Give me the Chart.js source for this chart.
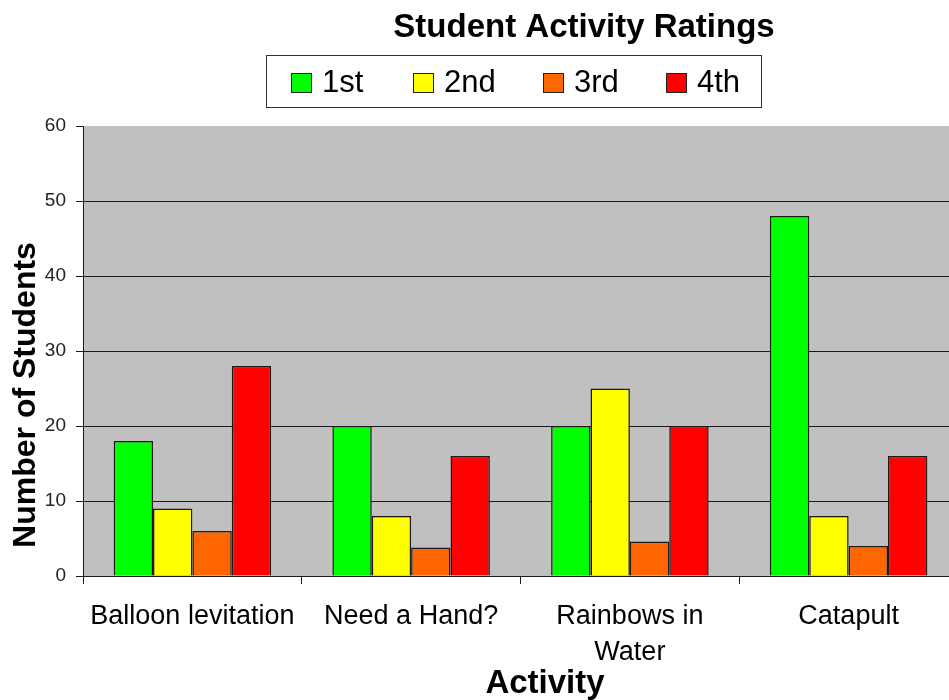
<!DOCTYPE html>
<html>
<head>
<meta charset="utf-8">
<title>Student Activity Ratings</title>
<script src="https://cdn.jsdelivr.net/npm/chart.js@4/dist/chart.umd.min.js"></script>
<style>
  body { margin: 0; background: #fff; }
  /* plot area runs past the right edge in the original, so the canvas is clipped */
  #wrap { width: 949px; height: 700px; overflow: hidden; }
</style>
</head>
<body>
<div id="wrap"><canvas id="ratingsChart" width="958" height="700"></canvas></div>
<script>
// Chart data
const activities = ["Balloon levitation", "Need a Hand?", ["Rainbows in", "Water"], "Catapult"];
const rankLabels = ["1st", "2nd", "3rd", "4th"];
const firstPlace = [18, 20, 20, 48];
const secondPlace = [9, 8, 25, 8];
const thirdPlace = [6, 3.8, 4.6, 4];
const fourthPlace = [28, 16, 20, 16];
const yTicks = [0, 10, 20, 30, 40, 50, 60];

const rankColors = ["#00ff00", "#ffff00", "#ff6600", "#ff0000"];
const FONT = "'Liberation Sans', Arial, sans-serif";

// Gray plot area + title, legend box and axis titles
const decorPlugin = {
  id: "decor",
  beforeDraw: function (chart) {
    const ctx = chart.ctx;
    const a = chart.chartArea;
    ctx.save();
    ctx.fillStyle = "#fff";
    ctx.fillRect(0, 0, chart.width, chart.height);
    ctx.fillStyle = "#c0c0c0";
    ctx.fillRect(a.left, a.top, a.right - a.left, a.bottom - a.top);
    ctx.restore();
  },
  afterDraw: function (chart) {
    const ctx = chart.ctx;
    ctx.save();
    ctx.fillStyle = "#000";

    // chart title
    ctx.font = "bold 33px " + FONT;
    ctx.textAlign = "center";
    ctx.textBaseline = "alphabetic";
    ctx.fillText("Student Activity Ratings", 584, 37);

    // legend box
    ctx.strokeStyle = "#333";
    ctx.lineWidth = 1;
    ctx.strokeRect(266.5, 55.5, 495, 52);
    const itemX = [291, 413, 543, 666];
    ctx.font = "31px " + FONT;
    ctx.textAlign = "left";
    chart.data.datasets.forEach(function (ds, i) {
      ctx.fillStyle = ds.backgroundColor;
      ctx.fillRect(itemX[i], 73, 20, 19);
      ctx.strokeStyle = "#222";
      ctx.strokeRect(itemX[i] + 0.5, 73.5, 20, 19);
      ctx.fillStyle = "#000";
      ctx.fillText(ds.label, itemX[i] + 31, 92);
    });

    // axis titles
    ctx.font = "bold 33px " + FONT;
    ctx.textAlign = "center";
    ctx.fillText("Activity", 545, 693);

    ctx.translate(35, 395);
    ctx.rotate(-Math.PI / 2);
    ctx.font = "bold 32px " + FONT;
    ctx.fillText("Number of Students", 0, 0);
    ctx.restore();
  },
};

const datasets = [firstPlace, secondPlace, thirdPlace, fourthPlace].map(function (values, i) {
  return {
    label: rankLabels[i],
    data: values,
    backgroundColor: rankColors[i],
    borderColor: "#1a1a1a",
    borderWidth: 1.5,
    barPercentage: 1,
    categoryPercentage: 0.72,
  };
});

new Chart(document.getElementById("ratingsChart"), {
  type: "bar",
  data: {
    labels: activities,
    datasets: datasets,
  },
  options: {
    responsive: false,
    animation: false,
    layout: {
      padding: { top: 126, right: 0, left: 0, bottom: 0 },
    },
    plugins: {
      legend: { display: false },
      title: { display: false },
      tooltip: { enabled: false },
    },
    scales: {
      x: {
        afterFit: function (scale) {
          scale.height = 124;
        },
        grid: {
          offset: true,
          drawOnChartArea: false,
          drawTicks: true,
          tickLength: 8,
          color: "#1a1a1a",
        },
        border: { color: "#1a1a1a", width: 1 },
        ticks: {
          color: "#000",
          padding: 15,
          maxRotation: 0,
          autoSkip: false,
          font: { family: FONT, size: 27, lineHeight: 1.333 },
        },
      },
      y: {
        min: 0,
        max: 60,
        afterFit: function (scale) {
          scale.width = 83;
        },
        afterBuildTicks: function (scale) {
          scale.ticks = yTicks.map(function (v) {
            return { value: v };
          });
        },
        grid: {
          color: function (c) {
            return c.tick && c.tick.value === 60 ? "rgba(0,0,0,0)" : "#1a1a1a";
          },
          tickColor: "#1a1a1a",
          tickLength: 7,
          lineWidth: 1,
        },
        border: { color: "#1a1a1a", width: 1 },
        ticks: {
          color: "#222",
          padding: 10,
          font: { family: FONT, size: 19 },
        },
      },
    },
  },
  plugins: [decorPlugin],
});
</script>
</body>
</html>
